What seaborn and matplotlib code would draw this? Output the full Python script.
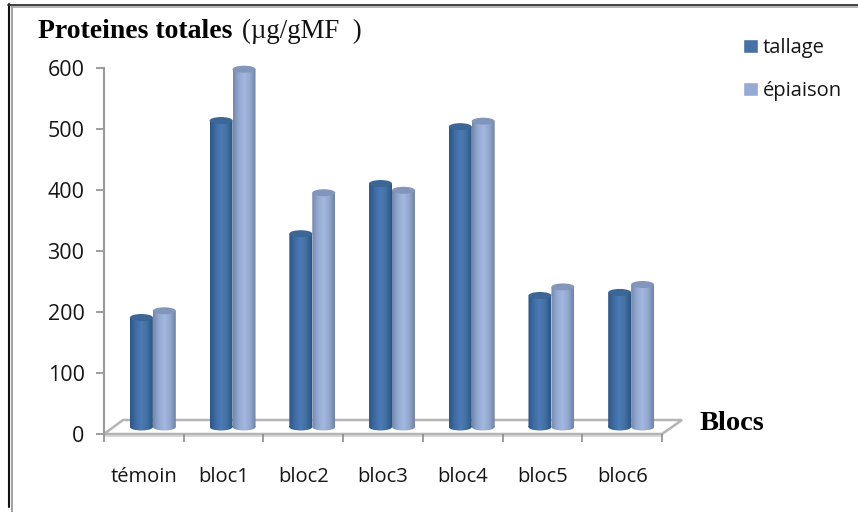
import numpy as np
import pandas as pd
import matplotlib
matplotlib.use("Agg")
import matplotlib.pyplot as plt
from matplotlib.colors import LinearSegmentedColormap
from matplotlib.patches import Ellipse, Polygon
from matplotlib.path import Path
import seaborn as sns

blocs = ["témoin", "bloc1", "bloc2", "bloc3", "bloc4", "bloc5", "bloc6"]
tallage = [179, 501, 316, 398, 491, 215, 220]
epiaison = [190, 585, 383, 387, 500, 229, 233]
y_ticks = [0, 100, 200, 300, 400, 500, 600]

df = pd.DataFrame({"bloc": blocs * 2,
                   "stade": ["tallage"] * 7 + ["épiaison"] * 7,
                   "val": tallage + epiaison})

W, H = 858, 512
sns.set_theme(style="white")
plt.rcParams["font.family"] = ["Open Sans", "DejaVu Sans"]
serif = ["Liberation Serif", "DejaVu Serif"]
TXT = "#161616"

def zone(g, d, haut, bas):
    return [g / W, 1 - bas / H, (d - g) / W, (bas - haut) / H]

fig = plt.figure(figsize=(W / 100, H / 100), dpi=100, facecolor="white")

# fond en pixels : cadre, plancher, textes
bg = fig.add_axes([0, 0, 1, 1])
bg.set_xlim(0, W)
bg.set_ylim(H, 0)
bg.axis("off")
bg.plot([8.5, 8.5], [4, 507], color="#111111", lw=1.5)
bg.plot([11.5, 11.5], [6, 512], color="#a0a0a0", lw=1.4)
bg.plot([8, W], [4.5, 4.5], color="#333333", lw=1.3)
bg.plot([11, W], [6.8, 6.8], color="#a8a8a8", lw=1.2)
bg.add_patch(Polygon([(104, 434), (123, 420), (682, 420), (662, 434)], closed=True,
                     facecolor="white", edgecolor="#b4b4b4", lw=1.8))
bg.plot([104, 662], [435.5, 435.5], color="#d0d0d0", lw=1.2)

bg.text(38, 31, "Proteines totales", family=serif, weight="bold", fontsize=20,
        color="black", va="center")
bg.text(242, 31, "(µg/gMF  )", family=serif, fontsize=19.4, color="#111111", va="center")
bg.text(700, 424, "Blocs", family=serif, weight="bold", fontsize=20.5, color="black", va="center")

# axes devant le plancher
ax = fig.add_axes(zone(104, 662, 67.5, 434))
ax.patch.set_alpha(0)
ax.set_xlim(-0.5, 6.5)
ax.set_ylim(0, 600)
ax.set_yticks(y_ticks)
ax.set_xticks(range(7))
ax.set_xticklabels(blocs)
ax.set_xticks(np.arange(-0.5, 7, 1), minor=True)
ax.tick_params(axis="x", which="major", length=0, pad=24, labelsize=14.5, labelcolor=TXT)
ax.tick_params(axis="x", which="minor", length=6, width=1.2, color="#8c8c8c", bottom=True)
ax.tick_params(axis="y", length=6, width=1.2, color="#8c8c8c", pad=8, labelsize=15.5,
               labelcolor=TXT, left=True)
for s in ["top", "right", "bottom"]:
    ax.spines[s].set_visible(False)
ax.spines["left"].set_color("#9a9a9a")
ax.spines["left"].set_linewidth(1.5)

# barres : decalees par la perspective
bx = fig.add_axes(zone(113, 671, 60, 427))
bx.patch.set_alpha(0)
palette = {"tallage": "#4672A8", "épiaison": "#95ABD3"}
sns.barplot(data=df, x="bloc", y="val", hue="stade", order=blocs, palette=palette,
            width=0.576, gap=0, saturation=1, ax=bx, legend=True)
bx.set_xlim(-0.5, 6.5)
bx.set_ylim(0, 600)
bx.axis("off")

degrades = {
    "tallage": (["#2d5688", "#3f6ca3", "#4b7bb8", "#42709f", "#2c5585"], "#3b6696"),
    "épiaison": (["#7488ad", "#94a9d1", "#a3b8df", "#93a8cf", "#6f83a6"], "#8296bb"),
}
ell_h = 7 / 0.6117
for cont, stade in zip(bx.containers, ["tallage", "épiaison"]):
    cm = LinearSegmentedColormap.from_list(stade, degrades[stade][0])
    grad = np.linspace(0, 1, 64).reshape(1, -1)
    for bar in cont:
        x, w, h = bar.get_x(), bar.get_width(), bar.get_height()
        bar.set_visible(False)
        bas = Ellipse((x + w / 2, 0), w, ell_h)
        corps = plt.Rectangle((x, 0), w, h)
        chemin = Path.make_compound_path(corps.get_path().transformed(corps.get_patch_transform()),
                                         bas.get_path().transformed(bas.get_patch_transform()))
        im = bx.imshow(grad, cmap=cm, extent=[x, x + w, -ell_h, h], aspect="auto", zorder=3)
        im.set_clip_box(fig.bbox)
        im.set_clip_path(chemin, transform=bx.transData)
        bx.add_patch(Ellipse((x + w / 2, h), w, ell_h, facecolor=degrades[stade][1],
                             edgecolor="none", zorder=4, clip_on=False))
bx.set_xlim(-0.5, 6.5)
bx.set_ylim(0, 600)

handles, labels = bx.get_legend_handles_labels()
for hd in handles:
    hd.set_visible(True)
bx.get_legend().remove()
fig.legend(handles, labels, loc="upper left", bbox_to_anchor=(743 / W, 1 - 38 / H),
           frameon=False, fontsize=14.5, labelcolor=TXT, handlelength=0.72, handleheight=0.72,
           handletextpad=0.25, labelspacing=1.15, borderpad=0, borderaxespad=0)

fig.savefig("out.png", dpi=100)
